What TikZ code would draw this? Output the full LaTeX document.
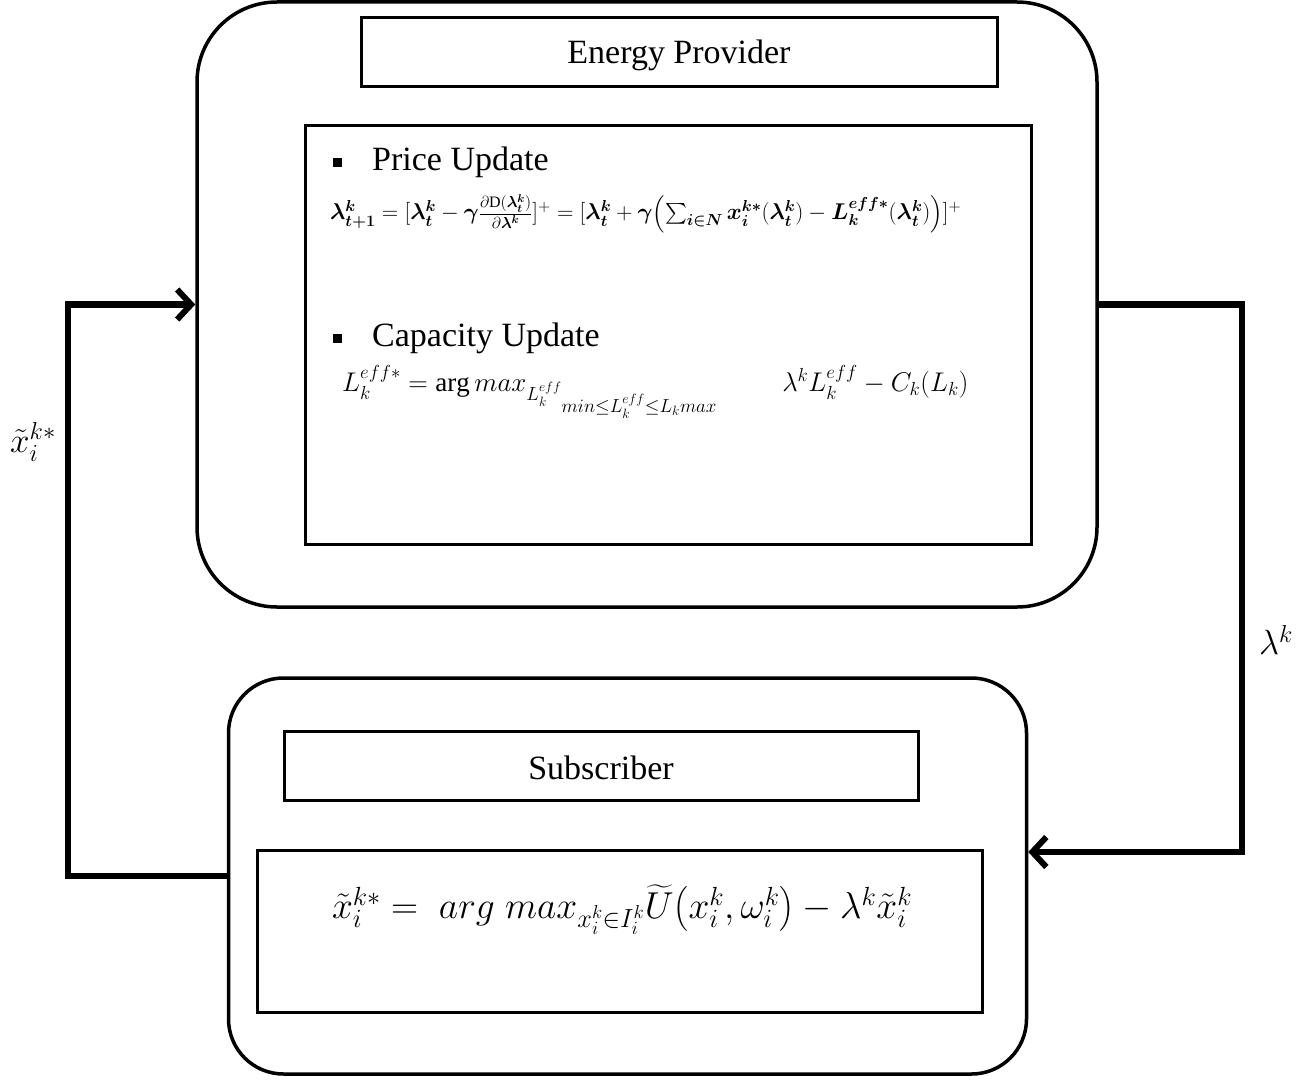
\RequirePackage{fix-cm}
\documentclass[tikz,border=0pt]{standalone}
\usepackage{amsmath}
\usepackage{fontspec}
\setmainfont{Liberation Serif}
\usetikzlibrary{arrows.meta}
\tikzset{
  bigbox/.style={draw, line width=3.5pt, rounded corners=80pt, inner sep=0pt},
  smallbig/.style={draw, line width=3.5pt, rounded corners=55pt, inner sep=0pt},
  titlebox/.style={draw, line width=3pt, inner sep=0pt},
  innerbox/.style={draw, line width=3pt, inner sep=0pt},
  link/.style={line width=6.5pt, -{Straight Barb[length=14pt,width=30pt,line width=6pt]}},
  bul/.style={fill=black, minimum size=9pt, inner sep=0pt},
  head/.style={anchor=west, inner sep=0pt, font=\fontsize{34}{38}\selectfont},
  lbl/.style={inner sep=0pt, font=\fontsize{35}{40}\selectfont}
}
\begin{document}
\begin{tikzpicture}[x=1pt,y=-1pt]
\useasboundingbox (0,0) rectangle (1306,1081);
% top box
\node[bigbox, minimum width=900pt, minimum height=605pt] (ep) at (647,304.5) {};
\node[titlebox, minimum width=636pt, minimum height=68pt] (eptitle) at (679,52) {};
\node[inner sep=0pt, font=\fontsize{34}{38}\selectfont] (eptext) at (679,55) {Energy Provider};
\node[innerbox, minimum width=726pt, minimum height=419pt] (epin) at (668,334.5) {};
\node[bul] (b1) at (337,162) {};
\node[head] (h1) at (372,162) {Price Update};
\node[anchor=west, inner sep=0pt, font=\fontsize{22.8}{26}\selectfont] (eq1) at (330,214)
 {$\boldsymbol{\lambda^k_{t+1}} = [\boldsymbol{\lambda^k_t} - \boldsymbol{\gamma}\frac{\partial \mathrm{D}(\boldsymbol{\lambda^k_t})}{\partial \boldsymbol{\lambda^k}}]^+ = [\boldsymbol{\lambda^k_t} + \boldsymbol{\gamma}\Bigl(\textstyle\sum_{\boldsymbol{i\in N}} \boldsymbol{x_i^{k*}}(\boldsymbol{\lambda^k_t}) - \boldsymbol{L_k^{eff*}}(\boldsymbol{\lambda^k_t})\Bigr)]^+$};
\node[bul] (b2) at (337,338) {};
\node[head] (h2) at (372,338) {Capacity Update};
\node[anchor=west, inner sep=0pt, font=\fontsize{27}{31}\selectfont] (eq2) at (342,392)
 {$L_k^{eff*} = \mathrm{arg}\, max_{L_k^{eff}{}_{\scriptstyle min\le L_k^{eff}\le L_k max}} \hspace{2.4em} \lambda^k L_k^{eff} - C_k(L_k)$};
% bottom box
\node[smallbig, minimum width=798pt, minimum height=396pt] (sub) at (627.5,876) {};
\node[titlebox, minimum width=634pt, minimum height=69pt] (subtitle) at (601,765.5) {};
\node[inner sep=0pt, font=\fontsize{34}{38}\selectfont] (subtext) at (601,768) {Subscriber};
\node[innerbox, minimum width=725pt, minimum height=162pt] (subin) at (619.5,931) {};
\node[inner sep=0pt, font=\fontsize{37.5}{42}\selectfont] (eq3) at (622,910)
 {$\tilde{x}_i^{k*} = \; arg\; max_{x_i^k\in I_i^k}\widetilde{U}\bigl(x_i^k,\omega_i^k\bigr) - \lambda^k\tilde{x}_i^k$};
% connectors
\coordinate (lc) at (68,876);
\coordinate (rc) at (1242,304.5);
\draw[link] (sub.west) -- (lc) |- (ep.west);
\draw[link] (ep.east) -- (rc) |- ([yshift=24pt]sub.east);
% labels
\node[lbl] (lx) at (33,442) {$\tilde{x}_i^{k*}$};
\node[lbl] (ll) at (1276,640) {$\lambda^k$};
\end{tikzpicture}
\end{document}
